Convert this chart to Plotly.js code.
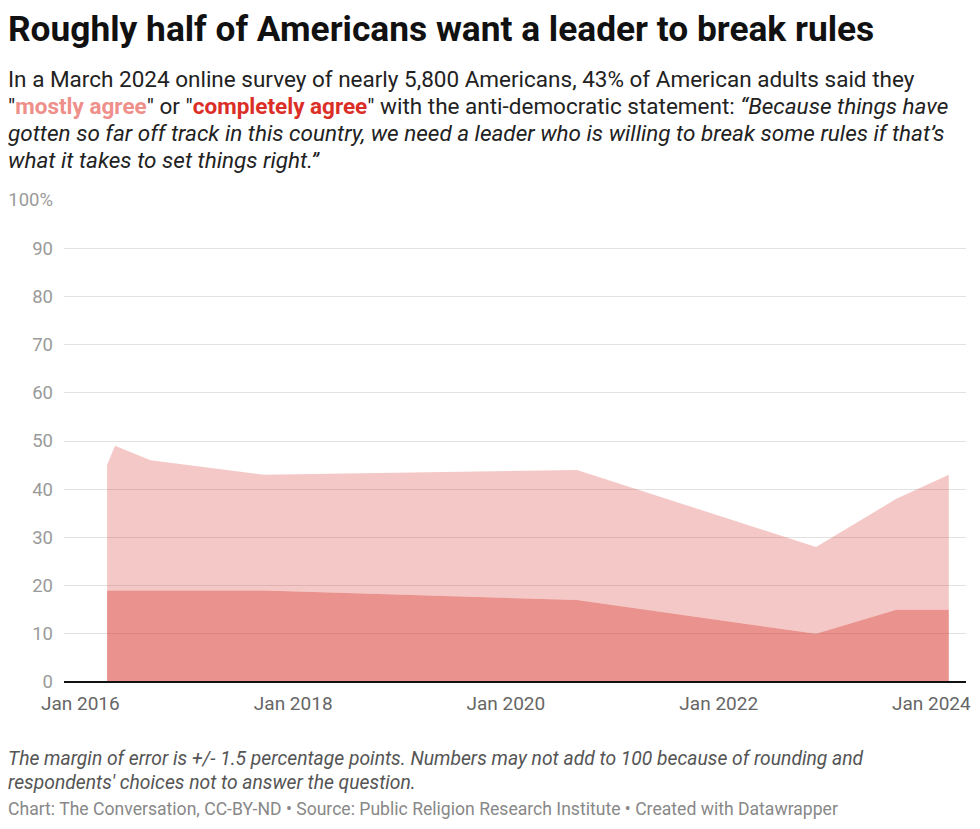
<!DOCTYPE html>
<html>
<head>
<meta charset="utf-8">
<script src="https://cdn.plot.ly/plotly-3.0.1.min.js"></script>
<style>
html,body{margin:0;padding:0;background:#fff;}
#chart{width:980px;height:829px;}
</style>
</head>
<body>
<div id="chart"></div>
<script>
// Survey dates
var surveyDates = ["2016-04-02","2016-04-29","2016-08-29","2017-09-22","2020-09-01","2022-12-01","2023-09-03","2024-03-01"];
// "Completely agree" share (%)
var completelyAgree = [19, 19, 19, 19, 17, 10, 15, 15];
// "Mostly agree" share (%), stacked on top
var mostlyAgree = [26, 30, 27, 24, 27, 18, 23, 28];

var xTickVals = ["2016-01-01","2018-01-01","2020-01-01","2022-01-01","2024-01-01"];
var xTickText = ["Jan 2016","Jan 2018","Jan 2020","Jan 2022","Jan 2024"];
var yTickVals = [0,10,20,30,40,50,60,70,80,90,100];
var yTickText = ["0","10","20","30","40","50","60","70","80","90","100%"];

var W = 980, H = 829;
var L = 64, R = 14, T = 200, B = 147;
var plotW = W - L - R, plotH = H - T - B;
function px(x){ return (x - L) / plotW; }
function py(y){ return (H - B - y) / plotH; }

var FONT = "Roboto, 'Noto Sans', sans-serif";

var traces = [
  {
    x: surveyDates, y: completelyAgree, type: "scatter", mode: "lines",
    stackgroup: "one", line: {width: 0, color: "rgba(216,56,50,0)"},
    fillcolor: "rgba(216,56,50,0.55)", name: "completely agree", hoverinfo: "skip"
  },
  {
    x: surveyDates, y: mostlyAgree, type: "scatter", mode: "lines",
    stackgroup: "one", line: {width: 0, color: "rgba(216,56,50,0)"},
    fillcolor: "rgba(216,56,50,0.28)", name: "mostly agree", hoverinfo: "skip"
  }
];

function ann(text, x, y, size, color, extra){
  var a = {text: text, xref: "paper", yref: "paper", x: px(x), y: py(y),
    xanchor: "left", yanchor: "middle", showarrow: false, align: "left",
    font: {family: FONT, size: size, color: color}};
  if (extra) for (var k in extra) a[k] = extra[k];
  return a;
}

var annotations = [
  ann("<b>Roughly half of Americans want a leader to break rules</b>", 6, 29, 35.3, "#111"),
  ann("In a March 2024 online survey of nearly 5,800 Americans, 43% of American adults said they", 6, 79, 22.5, "#222"),
  ann("\"<b><span style='color:#ef8f8a'>mostly agree</span></b>\" or \"<b><span style='color:#db2e27'>completely agree</span></b>\" with the anti-democratic statement: <i>“Because things have</i>", 6, 106, 22.5, "#222"),
  ann("<i>gotten so far off track in this country, we need a leader who is willing to break some rules if that’s</i>", 6, 133, 22.5, "#222"),
  ann("<i>what it takes to set things right.”</i>", 6, 160, 22.5, "#222"),
  ann("<i>The margin of error is +/- 1.5 percentage points. Numbers may not add to 100 because of rounding and</i>", 6, 759, 19.3, "#555"),
  ann("<i>respondents' choices not to answer the question.</i>", 6, 782, 19.3, "#555"),
  ann("Chart: The Conversation, CC-BY-ND • Source: Public Religion Research Institute • Created with Datawrapper", 6, 809, 17.6, "#888")
];

var layout = {
  width: W, height: H,
  margin: {l: L, r: R, t: T, b: B, pad: 0},
  paper_bgcolor: "#fff", plot_bgcolor: "#fff",
  showlegend: false,
  font: {family: FONT},
  xaxis: {
    type: "date", range: ["2015-11-06", "2024-04-29"],
    tickvals: xTickVals, ticktext: xTickText, ticks: "",
    showgrid: false, zeroline: false, showline: false,
    tickfont: {family: FONT, size: 19, color: "#666"},
    ticklabelstandoff: 8, fixedrange: true
  },
  yaxis: {
    range: [0, 100], tickvals: yTickVals, ticktext: yTickText, ticks: "",
    showgrid: true, gridcolor: "#e2e2e2", gridwidth: 1,
    zeroline: true, zerolinecolor: "#111", zerolinewidth: 1.5, zerolinelayer: "above traces",
    showline: false,
    tickfont: {family: FONT, size: 18.5, color: "#9a9a9a"},
    ticklabelstandoff: 10, fixedrange: true
  },
  annotations: annotations,
  hovermode: false
};

Plotly.newPlot("chart", traces, layout, {staticPlot: true, displayModeBar: false});
</script>
</body>
</html>
